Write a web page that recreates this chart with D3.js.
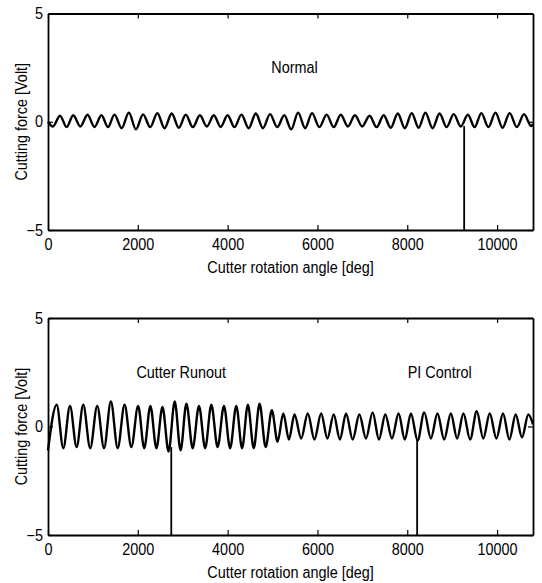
<!DOCTYPE html>
<html><head><meta charset="utf-8">
<script src="https://cdn.jsdelivr.net/npm/d3@7"></script>
<style>
body{margin:0;background:#fff}
text{font-family:"Liberation Sans",Arial,sans-serif;fill:#000}
</style>
</head><body><svg id="c" width="542" height="583"></svg>
<script>
// ---------- data ----------
const xTicks = [0, 2000, 4000, 6000, 8000, 10000];
const yTicks = [-5, 0, 5];
const xDomain = [0, 10800];
const yDomain = [-5, 5];
const xLabel = "Cutter rotation angle [deg]";
const yLabel = "Cutting force [Volt]";

// Panel 1: Normal
const normalPeakX = [267, 562, 880, 1190, 1480, 1800, 2117, 2435, 2755, 3068, 3382, 3692, 3999, 4308, 4628, 4945, 5262, 5570, 5880, 6205, 6520, 6835, 7160, 7475, 7790, 8100, 8405, 8720, 9035, 9350, 9650, 9965, 10280, 10600];
const normalPeakY = [0.28, 0.3, 0.32, 0.3, 0.33, 0.42, 0.34, 0.4, 0.38, 0.32, 0.3, 0.3, 0.3, 0.33, 0.38, 0.35, 0.3, 0.42, 0.4, 0.33, 0.32, 0.3, 0.28, 0.3, 0.38, 0.4, 0.42, 0.38, 0.35, 0.32, 0.4, 0.42, 0.4, 0.35];
const normalTroughX = [0, 110, 415, 720, 1035, 1335, 1640, 1958, 2276, 2595, 2912, 3225, 3537, 3845, 4153, 4468, 4786, 5103, 5416, 5725, 6042, 6362, 6677, 6997, 7317, 7632, 7945, 8252, 8562, 8877, 9192, 9500, 9807, 10122, 10440, 10760, 10800];
const normalTroughY = [0.0, -0.22, -0.25, -0.22, -0.24, -0.25, -0.3, -0.35, -0.25, -0.3, -0.28, -0.25, -0.22, -0.24, -0.25, -0.3, -0.3, -0.25, -0.35, -0.3, -0.25, -0.25, -0.22, -0.22, -0.25, -0.28, -0.3, -0.28, -0.3, -0.25, -0.22, -0.25, -0.25, -0.28, -0.25, -0.2, -0.1];
const normalSpikeX = [9267];
const normalSpikeTop = [-0.2];
const normalNotes = ["Normal"];
const normalNoteX = [5490];
const normalNoteY = [2.5];

// Panel 2: Cutter runout then PI control
const runoutPeakX = [193, 489, 785, 1096, 1400, 1705, 2007, 2280, 2549, 2822, 3082, 3362, 3637, 3918, 4193, 4451, 4711, 4984, 5240, 5489, 5785, 6082, 6362, 6637, 6933, 7229, 7511, 7807, 8082, 8378, 8673, 8970, 9251, 9548, 9837, 10133, 10415, 10696];
const runoutPeakY = [1.0, 0.95, 1.0, 0.95, 1.15, 1.0, 0.95, 0.95, 0.9, 1.15, 1.05, 0.95, 1.0, 0.95, 0.95, 1.0, 1.05, 0.75, 0.6, 0.55, 0.6, 0.6, 0.55, 0.6, 0.55, 0.65, 0.55, 0.6, 0.6, 0.65, 0.6, 0.6, 0.6, 0.7, 0.6, 0.6, 0.55, 0.55];
const runoutTroughX = [0, 341, 637, 940, 1248, 1552, 1856, 2143, 2414, 2685, 2952, 3222, 3500, 3777, 4055, 4322, 4581, 4847, 5112, 5365, 5637, 5933, 6222, 6500, 6785, 7081, 7370, 7659, 7945, 8230, 8525, 8822, 9110, 9400, 9692, 9985, 10274, 10555, 10800];
const runoutTroughY = [-1.1, -1.0, -0.95, -1.0, -1.0, -1.0, -0.95, -1.0, -1.0, -1.15, -1.1, -1.0, -1.0, -0.95, -1.0, -1.0, -1.0, -0.95, -0.7, -0.6, -0.55, -0.6, -0.55, -0.6, -0.6, -0.55, -0.6, -0.55, -0.6, -0.65, -0.55, -0.6, -0.55, -0.6, -0.55, -0.55, -0.6, -0.5, 0.1];
const runoutSpikeX = [2745, 8220];
const runoutSpikeTop = [-0.95, -0.6];
const runoutNotes = ["Cutter Runout", "PI Control"];
const runoutNoteX = [2967, 8722];
const runoutNoteY = [2.5, 2.5];

// ---------- drawing ----------
const svg = d3.select("#c");
const panels = [
  {top: 13.5, bottom: 230, px: normalPeakX, py: normalPeakY, tx: normalTroughX, ty: normalTroughY,
   sx: normalSpikeX, st: normalSpikeTop, nt: normalNotes, nx: normalNoteX, ny: normalNoteY},
  {top: 318, bottom: 535, px: runoutPeakX, py: runoutPeakY, tx: runoutTroughX, ty: runoutTroughY,
   sx: runoutSpikeX, st: runoutSpikeTop, nt: runoutNotes, nx: runoutNoteX, ny: runoutNoteY}
];
const left = 48, right = 533;
const FS = 16;

panels.forEach(p => {
  const x = d3.scaleLinear().domain(xDomain).range([left, right]);
  const y = d3.scaleLinear().domain(yDomain).range([p.bottom, p.top]);
  const g = svg.append("g");

  // signal
  const pts = p.px.map((v, i) => [v, p.py[i]]).concat(p.tx.map((v, i) => [v, p.ty[i]]))
    .sort((a, b) => a[0] - b[0]);
  g.append("path").datum(pts)
    .attr("fill", "none").attr("stroke", "#000").attr("stroke-width", 2.4)
    .attr("stroke-linejoin", "round")
    .attr("d", d3.line().x(d => x(d[0])).y(d => y(d[1])).curve(d3.curveMonotoneX));

  // spikes
  g.selectAll("line.spike").data(p.sx).join("line").attr("class", "spike")
    .attr("x1", d => x(d)).attr("x2", d => x(d))
    .attr("y1", (d, i) => y(p.st[i])).attr("y2", y(-5))
    .attr("stroke", "#000").attr("stroke-width", 1.8);

  // axes (MATLAB style inward ticks)
  const axB = d3.axisBottom(x).tickValues(xTicks).tickSizeInner(-5).tickSizeOuter(0).tickPadding(9).tickFormat(d3.format("d"));
  const axT = d3.axisTop(x).tickValues(xTicks).tickSizeInner(-5).tickSizeOuter(0).tickFormat("");
  const axL = d3.axisLeft(y).tickValues(yTicks).tickSizeInner(-5).tickSizeOuter(0).tickPadding(5).tickFormat(d3.format("d"));
  const axR = d3.axisRight(y).tickValues(yTicks).tickSizeInner(-5).tickSizeOuter(0).tickFormat("");

  const gb = g.append("g").attr("transform", `translate(0,${p.bottom})`).call(axB);
  const gt = g.append("g").attr("transform", `translate(0,${p.top})`).call(axT);
  const gl = g.append("g").attr("transform", `translate(${left},0)`).call(axL);
  const gr = g.append("g").attr("transform", `translate(${right},0)`).call(axR);
  [gb, gt, gl, gr].forEach(a => {
    a.select(".domain").attr("stroke", "#000").attr("stroke-width", 1.8);
    a.selectAll(".tick line").attr("stroke", "#000").attr("stroke-width", 1.2);
    a.selectAll("text").attr("font-size", FS).attr("font-family", "'Liberation Sans', Arial, sans-serif").attr("fill", "#000");
  });

  // labels
  g.append("text").attr("x", (left + right) / 2).attr("y", p.bottom + 43)
    .attr("text-anchor", "middle").attr("font-size", FS).text(xLabel);
  g.append("text").attr("transform", `translate(21,${(p.top + p.bottom) / 2}) rotate(-90)`)
    .attr("text-anchor", "middle").attr("dominant-baseline", "central").attr("font-size", FS).text(yLabel);

  // annotations
  g.selectAll("text.note").data(p.nt).join("text").attr("class", "note")
    .attr("x", (d, i) => x(p.nx[i])).attr("y", (d, i) => y(p.ny[i]))
    .attr("text-anchor", "middle").attr("dominant-baseline", "central")
    .attr("font-size", FS).text(d => d);
});

// condensed look of the scanned typeface
svg.selectAll("text").each(function () {
  const w = this.getComputedTextLength();
  if (w > 0) d3.select(this).attr("textLength", w * 0.9).attr("lengthAdjust", "spacingAndGlyphs");
});
</script>
</body></html>
